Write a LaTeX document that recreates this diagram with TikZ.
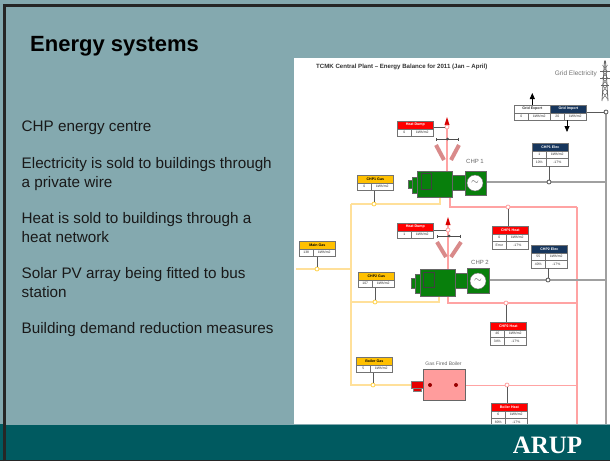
\documentclass[tikz,border=0pt]{standalone}
\usepackage{fontspec}
\setmainfont{Liberation Sans}
\newfontfamily\logofont{Liberation Serif}
\usetikzlibrary{positioning,arrows.meta}

\definecolor{slidebg}{HTML}{84A9AF}
\definecolor{bandbg}{HTML}{005A60}
\definecolor{gasline}{HTML}{FFE09A}
\definecolor{gashead}{HTML}{FFC000}
\definecolor{heatline}{HTML}{FFA3A3}
\definecolor{wireline}{HTML}{A0A0A0}
\definecolor{stemline}{HTML}{595959}
\definecolor{plantgreen}{HTML}{087F0C}
\definecolor{elechead}{HTML}{17365D}
\definecolor{boilerpink}{HTML}{FF9C9C}
\definecolor{dumpbar}{HTML}{D98A8A}

\tikzset{
  x=1pt, y=-1pt,
  bodytext/.style={anchor=base west, inner sep=0pt, font=\fontsize{15.25}{15}\selectfont, text=black!90},
  tabcell/.style={draw=black!55, line width=0.6pt, fill=white, inner sep=0pt, minimum height=7.5pt,
    font=\fontsize{3.4}{4}\selectfont, text=black!80, anchor=north west},
  tabhead/.style={tabcell, font=\fontsize{3.6}{4}\bfseries\selectfont, text=white},
  gaspipe/.style={gasline, line width=1.7pt},
  heatpipe/.style={heatline, line width=1.4pt},
  wirepipe/.style={wireline, line width=1.5pt},
  stem/.style={stemline, line width=0.9pt},
  junction/.style={circle, draw, fill=white, line width=0.8pt, minimum size=4pt, inner sep=0pt},
  plant/.style={draw=black!60, line width=0.5pt, fill=plantgreen},
  plantlabel/.style={inner sep=0pt, text=black!60},
  valve/.style={black!70, line width=0.7pt, {Bar[width=3pt]}-{Bar[width=3pt]}},
}

% table with a header and one row: name, x, y, colour, text colour, header, value
\newcommand{\gaugetwo}[7]{
  \node[tabhead, fill=#4, text=#5, minimum width=36pt] (#1) at (#2, #3) {#6};
  \node[tabcell, minimum width=14pt] (#1v) at (#2, #3+7.5) {#7};
  \node[tabcell, minimum width=22pt] (#1u) at (#2+14, #3+7.5) {kWh/m2};
}
% same with a second row
\newcommand{\gaugethree}[8]{
  \gaugetwo{#1}{#2}{#3}{#4}{white}{#5}{#6}
  \node[tabcell, minimum width=14pt] (#1p) at (#2, #3+15) {#7};
  \node[tabcell, minimum width=22pt] (#1q) at (#2+14, #3+15) {#8};
}

\begin{document}
\begin{tikzpicture}
\useasboundingbox (0,0) rectangle (610,461);

% slide
\fill[slidebg] (0,0) rectangle (610,461);
\draw[black!85, line width=2.6pt] (4.5,461) -- (4.5,5.3) -- (610,5.3);
\fill[white] (294,58) rectangle (610,424);

\node[anchor=base west, inner sep=0pt, font=\fontsize{22}{22}\bfseries\selectfont] (title) at (30,51) {Energy systems};
\node[bodytext] (t1) at (21.5,131) {CHP energy centre};
\node[bodytext] (t2) at (21.5,168) {Electricity is sold to buildings through};
\node[bodytext] (t3) at (21.5,187) {a private wire};
\node[bodytext] (t4) at (21.5,223) {Heat is sold to buildings through a};
\node[bodytext] (t5) at (21.5,242) {heat network};
\node[bodytext] (t6) at (21.5,278) {Solar PV array being fitted to bus};
\node[bodytext] (t7) at (21.5,297) {station};
\node[bodytext] (t8) at (21.5,333) {Building demand reduction measures};

% diagram texts
\node[anchor=base west, inner sep=0pt, font=\fontsize{6.1}{7}\bfseries\selectfont, text=black!80] (plot) at (316,68) {TCMK Central Plant -- Energy Balance for 2011 (Jan -- April)};
\node[anchor=base east, inner sep=0pt, font=\fontsize{6.5}{7}\selectfont, text=black!55] (grid) at (597,75) {Grid Electricity};
\node[plantlabel, font=\fontsize{6}{7}\selectfont] (lab1) at (475,161) {CHP 1};
\node[plantlabel, font=\fontsize{6}{7}\selectfont] (lab2) at (480,262) {CHP 2};
\node[plantlabel, font=\fontsize{5}{6}\selectfont] (lab3) at (443.5,364) {Gas Fired Boiler};

% junctions
\coordinate (gridtop) at (606,112);
\coordinate (gridend) at (606,424);
\coordinate (mainw) at (296,269);
\coordinate (gasa) at (351,204);
\coordinate (gasb) at (351,269);
\coordinate (gasc) at (351,302);
\coordinate (gasd) at (351,385);
\coordinate (heata) at (577,207);
\coordinate (heatb) at (577,303);
\coordinate (heatc) at (577,385);
\coordinate (heatend) at (577,424);

% pipes
\draw[gaspipe] (mainw) -- (gasb);
\draw[gaspipe] (gasa) -- (gasd) -- (411,385);
\draw[gaspipe] (gasa) -- (440,204) -- (440,197);
\draw[gaspipe] (gasc) -- (439,302) -- (439,296);
\draw[heatpipe] (heata) -- (heatend);
\draw[heatpipe] (447,125) -- (447,172);
\draw[heatpipe] (450,197) -- (450,207) -- (heata);
\draw[heatpipe] (448,225) -- (448,303) -- (heatb);
\draw[heatpipe, line width=1pt] (456,385) -- (heatc);
\draw[wirepipe] (gridtop) -- (gridend);
\draw[wirepipe] (486,182) -- (606,182);
\draw[wirepipe] (489,280) -- (606,280);

% heat dump arrows and valves
\fill[red!85!black] (447,117) -- (449.5,125) -- (444.5,125) -- cycle;
\fill[red!85!black] (448,217) -- (450.5,225) -- (445.5,225) -- cycle;
\draw[valve] (436,139) -- (459,139);
\draw[valve] (437,236) -- (461,236);
\fill[black!70] (447.5,139) circle (1.5pt);
\fill[black!70] (449,236) circle (1.5pt);
\draw[dumpbar, line width=4pt] (436,145) -- (444,160);
\draw[dumpbar, line width=4pt] (459,145) -- (451,160);
\draw[dumpbar, line width=4pt] (437,242) -- (446,257);
\draw[dumpbar, line width=4pt] (461,242) -- (451,257);

% CHP 1
\draw[plant] (408,180) rectangle (412,188);
\draw[plant] (412,177) rectangle (417,193);
\draw[plant] (452,175) rectangle (465,190);
\draw[plant] (417,171) rectangle (452,197);
\draw[plant, draw=black!75, line width=0.7pt] (421,173) rectangle (431,189);
\draw[plant] (465,171) rectangle (486,195);
\node[circle, draw=black!60, fill=white, minimum size=16pt, inner sep=0pt, font=\fontsize{10}{10}\selectfont, text=black!70] (gen1) at (475,183) {$\sim$};

% CHP 2
\draw[plant] (411,278) rectangle (415,288);
\draw[plant] (415,274) rectangle (420,293);
\draw[plant] (455,273) rectangle (467,288);
\draw[plant] (420,269) rectangle (455,296);
\draw[plant, draw=black!75, line width=0.7pt] (423,272) rectangle (434,287);
\draw[plant] (467,268) rectangle (489,293);
\node[circle, draw=black!60, fill=white, minimum size=16pt, inner sep=0pt, font=\fontsize{10}{10}\selectfont, text=black!70] (gen2) at (478,281) {$\sim$};

% boiler
\fill[red!90!black, draw=black!50, line width=0.4pt] (413,388) rectangle (421,391);
\fill[red!90!black, draw=black!50, line width=0.4pt] (411,381) rectangle (423,388);
\node[draw=black!60, line width=0.7pt, fill=boilerpink, minimum width=42pt, minimum height=31pt, inner sep=0pt, anchor=north west] (boiler) at (423,369) {};
\fill[red!60!black] (430,385) circle (2pt);
\fill[red!60!black] (456,385) circle (2pt);

% gauges
\gaugetwo{dumpa}{397}{121}{red}{white}{Heat Dump}{0}
\gaugetwo{dumpb}{397}{223}{red}{white}{Heat Dump}{1}
\gaugetwo{gasone}{357}{175}{gashead}{black}{CHP1 Gas}{0}
\gaugetwo{gastwo}{358}{272}{gashead}{black}{CHP2 Gas}{107}
\gaugetwo{gasmain}{299}{241}{gashead}{black}{Main Gas}{138}
\gaugetwo{gasboil}{356}{357}{gashead}{black}{Boiler Gas}{5}
\gaugetwo{export}{514}{105}{white}{black!80}{Grid Export}{0}
\gaugetwo{import}{550}{105}{elechead}{white}{Grid Import}{20}
\gaugethree{decone}{532}{143}{elechead}{CHP1 Elec}{1}{10\%}{-17\%}
\gaugethree{dectwo}{531}{245}{elechead}{CHP2 Elec}{55}{40\%}{-17\%}
\gaugethree{heatone}{492}{226}{red}{CHP1 Heat}{0}{Error}{-17\%}
\gaugethree{heattwo}{490}{322}{red}{CHP2 Heat}{46}{34\%}{-17\%}
\gaugethree{heatboil}{491}{403}{red}{Boiler Heat}{6}{80\%}{-17\%}

% junction dots with their stems
\node[junction, draw=stemline] (jgrid) at (606,112) {};
\node[junction, draw=stemline] (jdeca) at (549,182) {};
\node[junction, draw=stemline] (jdecb) at (548,280) {};
\node[junction, draw=heatline] (jdumpa) at (447,127) {};
\node[junction, draw=heatline] (jdumpb) at (448,230) {};
\node[junction, draw=heatline] (jheata) at (508,207) {};
\node[junction, draw=heatline] (jheatb) at (506,303) {};
\node[junction, draw=heatline] (jheatc) at (507,385) {};
\node[junction, draw=gashead!70] (jgasa) at (374,204) {};
\node[junction, draw=gashead!70] (jgasb) at (375,302) {};
\node[junction, draw=gashead!70] (jgasc) at (373,385) {};
\node[junction, draw=gashead!70] (jmain) at (317,269) {};

\draw[stem] (jgrid) -- (jgrid -| importu.east);
\draw[stem] (jdeca) -- (jdeca |- deconeq.south);
\draw[stem] (jdecb) -- (jdecb |- dectwoq.south);
\draw[stem] (jdumpa) -- (jdumpa -| dumpau.east);
\draw[stem] (jdumpb) -- (jdumpb -| dumpbu.east);
\draw[stem] (jheata) -- (jheata |- heatone.north);
\draw[stem] (jheatb) -- (jheatb |- heattwo.north);
\draw[stem] (jheatc) -- (jheatc |- heatboil.north);
\draw[stem] (jgasa) -- (jgasa |- gasoneu.south);
\draw[stem] (jgasb) -- (jgasb |- gastwou.south);
\draw[stem] (jgasc) -- (jgasc |- gasboilu.south);
\draw[stem] (jmain) -- (jmain |- gasmainu.south);

% grid import and export arrows
\draw[black, line width=0.8pt, -{Triangle[length=6pt,width=5pt]}] (export.north) -- ++(0,-12);
\draw[black, line width=0.8pt, -{Triangle[length=6pt,width=5pt]}] (567,120) -- (567,132);

% pylon
\draw[black!60, line width=0.8pt] (602,101) -- (604.5,61) -- (605.5,61) -- (608,101);
\draw[black!60, line width=0.8pt] (600,71) -- (610,71) (600,78) -- (610,78) (601,85) -- (609,85);
\foreach \yy in {65,71,78,85,92}
  \draw[black!60, line width=0.5pt] (602.5,\yy) -- (607.5,\yy+7) (607.5,\yy) -- (602.5,\yy+7);

% footer
\fill[bandbg] (0,424) rectangle (610,459.5);
\draw[slidebg, line width=1pt] (5,424.5) -- (610,424.5);
\fill[black!85] (0,459.5) rectangle (610,461);
\fill[black!85] (3.2,424) rectangle (5.8,461);
\node[anchor=base, inner sep=0pt, font=\logofont\fontsize{25}{25}\bfseries\selectfont, text=white] (logo) at (547.5,453) {ARUP};
\end{tikzpicture}
\end{document}
